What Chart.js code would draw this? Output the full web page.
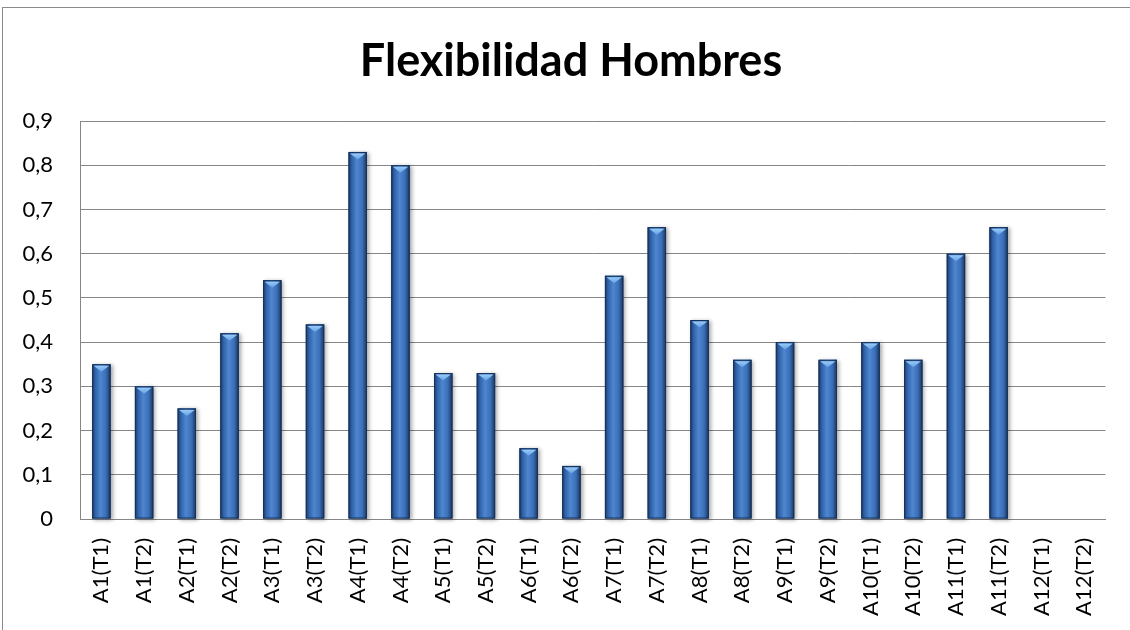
<!DOCTYPE html>
<html>
<head>
<meta charset="utf-8">
<script src="https://cdn.jsdelivr.net/npm/chart.js@4"></script>
<style>
	html, body { margin: 0; padding: 0; background: #fff; }
	#wrap { position: relative; width: 1130px; height: 630px; }
</style>
</head>
<body>
<div id="wrap"><canvas id="flexChart" width="1130" height="630"></canvas></div>
<script>
// Chart data
const categories = [
	'A1(T1)', 'A1(T2)', 'A2(T1)', 'A2(T2)', 'A3(T1)', 'A3(T2)',
	'A4(T1)', 'A4(T2)', 'A5(T1)', 'A5(T2)', 'A6(T1)', 'A6(T2)',
	'A7(T1)', 'A7(T2)', 'A8(T1)', 'A8(T2)', 'A9(T1)', 'A9(T2)',
	'A10(T1)', 'A10(T2)', 'A11(T1)', 'A11(T2)', 'A12(T1)', 'A12(T2)',
];
const flexValues = [
	0.35, 0.30, 0.25, 0.42, 0.54, 0.44,
	0.83, 0.80, 0.33, 0.33, 0.16, 0.12,
	0.55, 0.66, 0.45, 0.36, 0.40, 0.36,
	0.40, 0.36, 0.60, 0.66, null, null,
];
const yTicks = [ 0, 0.1, 0.2, 0.3, 0.4, 0.5, 0.6, 0.7, 0.8, 0.9 ];

const FONT = 'Lato, "Open Sans", "DejaVu Sans", sans-serif';

// Excel-like outer chart border, and title centred a bit to the right
const frame = {
	id: 'frame',
	afterLayout( chart ) {
		if ( chart.titleBlock ) {
			chart.titleBlock.left = 34;
		}
	},
	beforeDraw( chart ) {
		const c = chart.ctx;
		c.save();
		c.fillStyle = '#fff';
		c.fillRect( 0, 0, chart.width, chart.height );
		c.strokeStyle = '#8a8a8a';
		c.lineWidth = 1;
		c.strokeRect( 2.5, 7.5, chart.width + 20, chart.height + 20 );
		c.restore();
	},
};

// Draw the bevelled 3D-ish columns over the library's bar geometry
const bevelBars = {
	id: 'bevelBars',
	afterDatasetsDraw( chart ) {
		const c = chart.ctx;
		chart.getDatasetMeta( 0 ).data.forEach( ( bar, i ) => {
			if ( flexValues[ i ] == null ) {
				return;
			}
			const { x, y, base, width } = bar.getProps( [ 'x', 'y', 'base', 'width' ], true );
			const l = x - width / 2;
			const r = x + width / 2;
			const h = base - y;

			const g = c.createLinearGradient( l, 0, r, 0 );
			g.addColorStop( 0, '#1c3a66' );
			g.addColorStop( 0.18, '#3063a9' );
			g.addColorStop( 0.45, '#4e86d0' );
			g.addColorStop( 0.75, '#3b6fb8' );
			g.addColorStop( 1, '#1a345c' );

			c.save();
			c.shadowColor = 'rgba(0,0,0,0.35)';
			c.shadowBlur = 4;
			c.shadowOffsetX = 2;
			c.shadowOffsetY = 1;
			c.fillStyle = g;
			c.fillRect( l, y, width, h );
			c.restore();

			c.save();
			c.strokeStyle = '#17325a';
			c.lineWidth = 1;
			c.strokeRect( l + 0.5, y + 0.5, width - 1, h - 1 );

			// top cap
			const cap = c.createLinearGradient( 0, y, 0, y + 8 );
			cap.addColorStop( 0, '#a6d4fb' );
			cap.addColorStop( 1, '#5e9ee4' );
			c.fillStyle = cap;
			c.beginPath();
			c.moveTo( l + 1.5, y + 1.5 );
			c.lineTo( r - 1.5, y + 1.5 );
			c.lineTo( x, y + 7.5 );
			c.closePath();
			c.fill();
			c.restore();
		} );
	},
};

new Chart( document.getElementById( 'flexChart' ), {
	type: 'bar',
	data: {
		labels: categories,
		datasets: [
			{
				label: 'Flexibilidad',
				data: flexValues,
				backgroundColor: '#3a6cb4',
				barPercentage: 0.43,
				categoryPercentage: 1,
			},
		],
	},
	options: {
		responsive: false,
		animation: false,
		layout: {
			padding: { left: 0, right: 22, top: 0, bottom: 0 },
		},
		plugins: {
			legend: { display: false },
			tooltip: { enabled: false },
			title: {
				display: true,
				text: 'Flexibilidad Hombres',
				color: '#000',
				font: { family: FONT, size: 45, weight: 'bold', lineHeight: 1.2 },
				padding: { top: 34, bottom: 33 },
			},
		},
		scales: {
			x: {
				grid: { display: false, drawTicks: false },
				border: { display: true, color: '#868686', width: 1 },
				ticks: {
					color: '#000',
					font: { family: FONT, size: 22 },
					minRotation: 90,
					maxRotation: 90,
					padding: 19,
					autoSkip: false,
				},
				afterFit( scale ) {
					scale.height = 111;
				},
			},
			y: {
				min: 0,
				max: 0.9,
				afterBuildTicks( scale ) {
					scale.ticks = yTicks.map( ( v ) => ( { value: v } ) );
				},
				grid: { color: '#868686', lineWidth: 1, drawTicks: false },
				border: { display: true, color: '#868686', width: 1 },
				ticks: {
					color: '#000',
					font: { family: FONT, size: 22 },
					padding: 27,
					callback( v ) {
						const n = Math.round( v * 10 ) / 10;
						return n === 0 ? '0' : n.toFixed( 1 ).replace( '.', ',' );
					},
				},
				afterFit( scale ) {
					scale.width = 80;
				},
			},
		},
	},
	plugins: [ frame, bevelBars ],
} );
</script>
</body>
</html>
